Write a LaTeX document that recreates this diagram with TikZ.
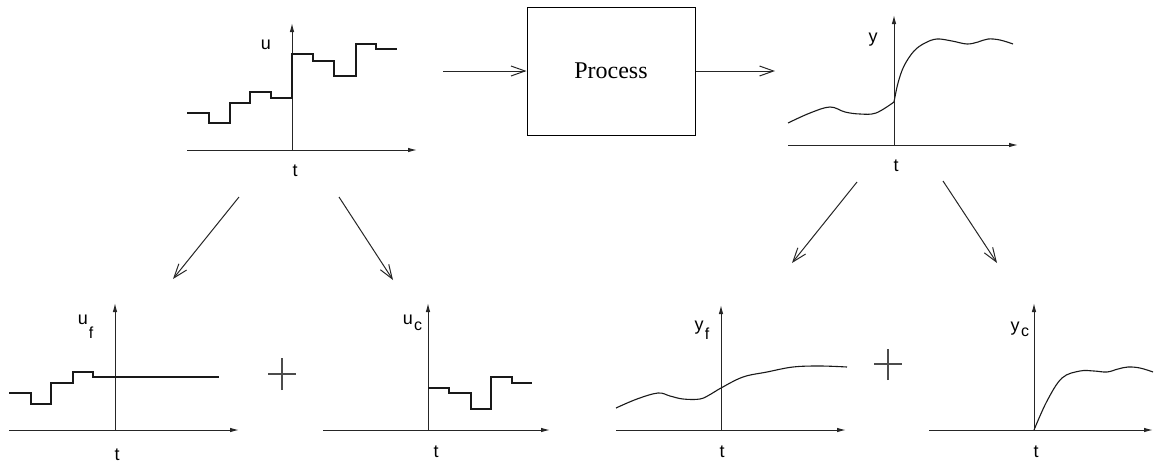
\documentclass[tikz,border=0pt]{standalone}
\usepackage{fontspec}
\setmainfont{Liberation Serif}
\newfontfamily\labfont{Liberation Sans}
\usetikzlibrary{arrows.meta}
\begin{document}
\begin{tikzpicture}[x=1pt,y=-1pt,
  axis/.style={draw=black!85, line width=1pt, -{Latex[length=9pt,width=4.5pt]}},
  sig/.style={draw=black!90, line width=1.1pt, line join=miter},
  flow/.style={draw=black!85, line width=1pt, -{Straight Barb[length=14pt,width=10pt]}},
  lab/.style={font=\labfont\fontsize{18}{18}\selectfont, inner sep=0pt},
  sub/.style={font=\labfont\fontsize{16}{16}\selectfont, inner sep=0pt},
  plusmark/.style={draw=black!70, line width=1.2pt}]
\useasboundingbox (0,0) rectangle (1154,464);

% ---- process block
\node[draw, line width=1pt, minimum width=168pt, minimum height=128pt,
      font=\fontsize{24}{24}\selectfont] (proc) at (611,71) {Process};
\coordinate (pin) at (443,71);
\coordinate (pout) at (775,71);
\draw[flow] (pin) -- (proc.west);
\draw[flow] (proc.east) -- (pout);

% ---- panel 1 : u
\coordinate (o1) at (292,150);
\draw[axis] (187,150) -- (417,150);
\draw[axis] (o1) -- (292,23);
\draw[sig] (187,113) -- (209,113) -- (209,123) -- (230,123) -- (230,103) -- (250,103)
  -- (250,92) -- (271,92) -- (271,98) -- (292,98) -- (292,54) -- (313,54) -- (313,61)
  -- (334,61) -- (334,76) -- (356,76) -- (356,44) -- (376,44) -- (376,49) -- (397,49);
\node[lab] (u1) at (266,45) {u};
\node[lab] (t1) at (295,171) {t};

% ---- panel 2 : y
\coordinate (o2) at (894,145);
\draw[axis] (788,145) -- (1018,145);
\draw[axis] (o2) -- (894,15);
\draw[sig] plot[smooth, tension=0.6] coordinates {(788,123) (810,113) (830,107) (845,112) (860,114) (876,113) (894,102)};
\draw[sig] plot[smooth, tension=0.6] coordinates {(894,102) (898,83) (904,66) (914,51) (925,43) (937,39) (952,41) (967,44) (978,42) (988,39) (1000,40) (1013,44)};
\node[lab] (y2) at (873,40) {y};
\node[lab] (t2) at (896,166) {t};

% ---- split arrows
\coordinate (a1s) at (239,197); \coordinate (a1e) at (173,279);
\coordinate (a2s) at (339,197); \coordinate (a2e) at (393,280);
\coordinate (a3s) at (857,182); \coordinate (a3e) at (792,263);
\coordinate (a4s) at (943,181); \coordinate (a4e) at (997,263);
\draw[flow] (a1s) -- (a1e);
\draw[flow] (a2s) -- (a2e);
\draw[flow] (a3s) -- (a3e);
\draw[flow] (a4s) -- (a4e);

% ---- panel 3 : u_f
\coordinate (o3) at (115,430);
\draw[axis] (9,430) -- (239,430);
\draw[axis] (o3) -- (115,303);
\draw[sig] (9,393) -- (31,393) -- (31,404) -- (51,404) -- (51,383) -- (73,383)
  -- (73,372) -- (93,372) -- (93,377) -- (219,377);
\node[lab] (u3) at (83,320) {u};
\node[sub] (u3s) at (91,333) {f};
\node[lab] (t3) at (117,455) {t};

% plus 1
\coordinate (p1) at (282,374);
\draw[plusmark] ([xshift=-14pt]p1) -- ([xshift=14pt]p1);
\draw[plusmark] ([yshift=-16pt]p1) -- ([yshift=16pt]p1);

% ---- panel 4 : u_c
\coordinate (o4) at (428,430);
\draw[axis] (323,430) -- (550,430);
\draw[axis] (o4) -- (428,303);
\draw[sig] (428,388) -- (449,388) -- (449,393) -- (471,393) -- (471,409) -- (491,409)
  -- (491,377) -- (512,377) -- (512,383) -- (532,383);
\node[lab] (u4) at (408,320) {u};
\node[sub] (u4s) at (418,326) {c};
\node[lab] (t4) at (436,452) {t};

% ---- panel 5 : y_f
\coordinate (o5) at (721,430);
\draw[axis] (616,430) -- (846,430);
\draw[axis] (o5) -- (721,305);
\draw[sig] plot[smooth, tension=0.6] coordinates {(616,408) (637,399) (658,393) (670,396) (683,399) (700,399) (711,394) (721,388) (743,377) (767,372) (793,367) (820,366) (847,367)};
\node[lab] (y5) at (699,328) {y};
\node[sub] (y5s) at (707,334) {f};
\node[lab] (t5) at (722,452) {t};

% plus 2
\coordinate (p2) at (888,364);
\draw[plusmark] ([xshift=-14pt]p2) -- ([xshift=14pt]p2);
\draw[plusmark] ([yshift=-16pt]p2) -- ([yshift=15pt]p2);

% ---- panel 6 : y_c
\coordinate (o6) at (1034,430);
\draw[axis] (929,430) -- (1153,430);
\draw[axis] (o6) -- (1034,303);
\draw[sig] plot[smooth, tension=0.6] coordinates {(1034,430) (1047,401) (1062,378) (1080,371) (1094,371) (1107,372) (1118,369) (1128,367) (1140,368) (1153,372)};
\node[lab] (y6) at (1015,329) {y};
\node[sub] (y6s) at (1025,332) {c};
\node[lab] (t6) at (1036,452) {t};
\end{tikzpicture}
\end{document}
